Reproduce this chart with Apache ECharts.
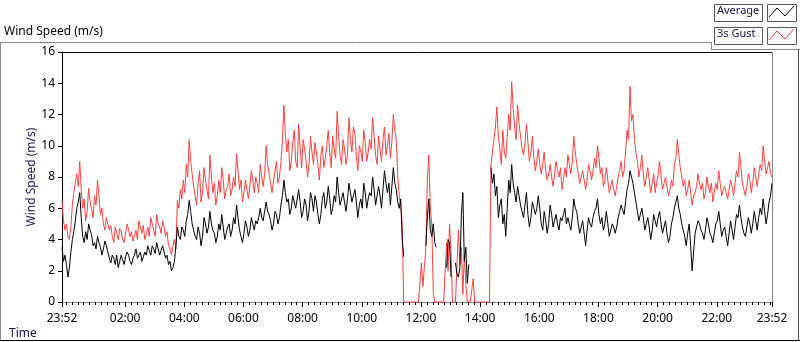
<!DOCTYPE html>
<html><head><meta charset="utf-8">
<script src="https://cdn.jsdelivr.net/npm/echarts@6/dist/echarts.min.js"></script>
<style>html,body{margin:0;padding:0;background:#fff}#c{width:800px;height:342px}</style>
</head><body><div id="c"></div>
<script>
// Minutes since midnight; series starts at 23:52 of the previous day (-8) with a 3-minute step
const startMinute = -8;
const stepMinutes = 3;

const gust = [
 6.5,5.2,4.6,5.0,4.2,4.0,4.8,6.2,7.0,7.6,8.2,7.4,9.0,7.2,6.0,6.6,5.2,5.8,7.3,6.4,
 6.0,5.4,6.8,6.2,7.8,6.8,5.6,6.0,5.0,4.6,5.4,5.0,4.6,4.9,4.2,3.8,4.8,4.4,4.0,4.7,
 4.5,4.0,3.8,4.4,5.0,4.6,4.2,4.5,3.9,4.2,4.6,4.0,5.2,4.8,4.4,4.9,4.0,4.3,4.8,4.2,
 5.4,5.0,4.6,4.2,5.6,5.0,4.8,4.4,5.2,4.8,4.2,4.5,3.6,3.4,3.0,3.6,4.0,3.4,6.5,6.0,
 7.2,6.6,7.8,7.0,8.8,8.0,10.4,9.0,8.2,7.4,6.8,6.2,7.6,8.4,6.4,7.0,8.6,7.8,7.2,6.6,
 9.4,8.0,7.0,7.6,6.2,6.8,7.8,7.0,8.6,7.8,6.6,7.2,7.4,8.2,6.8,7.2,8.0,7.4,9.5,8.4,
 7.2,7.8,6.4,7.0,7.8,7.2,6.6,7.4,8.4,7.8,7.0,8.0,7.6,7.0,8.8,8.0,7.4,8.2,10.0,8.8,
 8.2,7.6,7.0,7.8,8.4,9.0,7.6,8.0,9.0,10.2,12.6,10.8,9.6,10.4,8.4,9.0,10.2,11.0,9.0,8.6,
 11.4,9.8,8.6,10.4,9.8,9.0,8.0,8.8,10.6,9.6,8.8,10.2,9.6,8.8,7.8,9.4,10.0,8.6,9.2,10.0,
 11.0,9.6,8.6,10.6,9.8,9.2,12.2,10.6,9.4,8.8,10.4,9.8,8.8,9.4,11.8,10.4,9.6,11.2,10.8,9.4,
 8.4,10.0,9.6,9.0,11.0,10.2,9.0,9.6,10.4,9.8,11.8,10.6,9.4,8.8,10.6,9.8,9.0,10.4,11.2,9.4,
 10.0,10.8,9.2,10.2,12.0,11.0,10.4,8.0,6.8,6.2,5.0,0,0,0,0,0,0,0,0,0,
 0,0,0,2.5,1.0,2.2,3.5,7.8,9.4,6.0,5.0,0.6,0,0,0,0,0,0,0,0,
 3.8,2.0,5.0,3.2,0,0,0,0,4.6,2.4,3.5,0.5,3.0,1.2,0,0,0,0,1.5,0,
 0,0,0,0,0,0,0,0,0,0,8.8,9.6,10.4,11.2,12.5,10.6,9.8,8.8,11.0,9.6,
 9.2,10.6,12.0,11.0,14.1,12.4,11.2,10.4,12.6,11.4,10.6,9.8,9.4,10.2,11.4,10.2,9.0,9.6,10.6,9.2,
 8.4,9.0,9.8,8.8,8.2,8.8,9.6,8.4,7.8,8.2,8.8,8.0,7.4,8.2,9.0,8.4,8.0,8.6,7.2,7.8,
 8.6,8.0,9.4,8.8,8.2,9.0,10.6,9.6,8.8,8.2,7.6,8.0,8.4,7.8,7.2,7.8,8.8,8.4,7.8,8.4,
 9.2,8.6,10.0,9.2,8.2,8.6,7.4,7.8,8.6,7.8,7.0,7.4,7.8,7.2,6.8,7.4,8.0,8.4,9.0,8.0,
 8.4,9.6,11.0,10.4,13.8,11.6,12.0,10.4,9.6,9.0,8.0,8.6,9.4,8.2,7.4,8.0,8.6,7.8,7.0,7.6,
 8.2,7.0,7.6,8.2,9.0,8.0,7.2,7.6,8.0,7.4,6.8,7.2,7.8,7.4,8.8,9.2,10.4,9.4,8.6,8.0,
 7.4,7.8,6.8,7.2,7.8,7.0,6.2,6.8,7.0,7.4,8.2,7.6,7.2,7.6,6.6,7.0,8.0,7.4,7.0,7.6,
 6.4,7.0,7.6,7.2,8.4,7.6,6.8,7.2,7.4,7.0,6.6,7.2,7.8,7.4,6.8,7.6,8.4,8.0,9.6,8.6,
 7.6,7.2,6.8,7.4,8.2,7.8,7.0,7.6,8.6,8.0,7.4,8.2,8.8,8.4,10.0,9.0,8.2,8.6,9.0,8.2,
 8.0
];

const average = [
 3.5,2.6,3.0,2.4,1.6,2.2,3.2,4.0,4.5,5.2,6.0,6.4,7.0,5.4,4.2,3.8,4.5,4.0,5.0,4.6,
 4.3,3.6,3.8,3.4,4.2,3.8,3.5,3.0,3.4,3.9,3.6,3.2,2.8,2.5,3.0,2.8,2.4,3.0,2.2,2.6,
 3.0,2.7,2.4,2.9,3.2,3.0,2.6,2.4,2.8,3.0,3.4,2.8,3.0,3.2,2.6,2.9,3.2,3.0,3.6,3.3,
 3.0,3.6,3.4,3.1,3.8,3.4,3.0,3.3,3.6,3.2,2.8,3.0,2.4,2.6,2.0,2.2,2.6,3.6,4.8,4.2,
 4.0,4.8,4.6,4.2,5.2,5.6,6.5,5.8,5.0,4.6,4.2,4.0,4.8,4.4,3.6,4.2,5.4,5.0,4.4,4.8,
 5.8,5.0,4.6,4.4,3.8,4.2,5.0,4.6,5.6,4.8,4.0,4.4,4.8,5.0,4.2,4.6,5.4,5.0,6.2,5.4,
 4.6,4.2,3.8,4.4,5.2,4.8,4.2,4.6,5.4,5.0,4.6,5.2,5.0,5.4,6.0,5.4,5.2,5.8,6.4,5.8,
 5.6,5.2,4.6,5.0,5.8,5.6,5.0,5.4,6.2,6.8,7.8,7.0,6.4,6.6,5.6,6.0,6.8,6.4,6.0,6.6,
 7.2,6.4,5.4,5.8,6.6,6.2,5.2,5.8,7.0,6.6,5.8,6.8,6.4,5.6,5.0,5.6,6.6,7.0,6.0,6.4,
 7.4,6.6,5.6,6.0,6.8,6.4,8.0,7.0,6.2,6.6,7.0,6.4,5.8,6.6,7.6,7.0,6.4,6.8,7.2,6.4,
 5.4,6.2,6.6,6.0,7.6,7.0,6.0,6.6,7.0,6.8,8.0,7.2,6.2,6.8,7.4,6.8,6.0,7.2,8.4,7.6,
 7.0,7.6,6.2,7.4,8.6,7.6,7.2,6.4,6.0,6.6,4.0,2.9,null,null,null,null,null,null,null,null,
 null,null,null,null,null,null,3.6,5.4,6.6,4.6,4.2,5.0,3.8,3.5,null,null,null,null,null,null,
 2.2,4.0,3.8,1.6,null,null,2.5,1.8,1.6,2.2,5.6,7.0,2.6,3.5,1.2,2.4,null,null,null,null,
 null,null,null,null,null,null,null,null,null,null,8.6,7.6,8.2,6.8,7.4,5.4,6.2,6.6,5.0,5.6,
 4.2,6.0,7.8,7.0,8.8,7.6,7.0,6.4,7.4,6.8,6.2,5.8,5.4,6.2,7.0,5.6,4.8,5.4,6.4,6.0,
 5.6,6.0,6.8,6.0,5.0,4.6,5.8,5.2,4.4,5.0,6.2,5.6,4.8,5.2,5.6,5.0,4.6,5.4,5.2,5.6,
 6.0,5.0,5.4,5.0,4.6,5.4,6.6,6.0,5.8,5.0,4.4,4.8,5.2,4.4,3.6,4.6,5.4,5.0,4.8,5.4,
 5.8,6.0,6.6,5.6,5.0,5.4,4.6,5.0,5.8,5.0,4.2,4.6,5.0,4.8,4.4,4.8,5.4,5.8,6.2,5.9,
 5.6,6.4,7.2,7.6,8.4,8.0,7.6,7.0,6.4,5.8,5.2,5.6,6.0,5.4,4.6,5.0,5.4,4.8,4.0,4.6,
 5.6,5.2,4.8,5.4,5.8,5.0,4.4,4.8,5.2,4.4,3.8,4.2,5.0,5.4,6.0,6.4,6.8,6.0,5.6,5.0,
 4.6,4.2,3.6,4.4,5.0,3.6,2.0,3.2,4.4,4.8,5.2,5.0,4.6,4.4,4.0,4.6,5.4,5.0,4.4,4.2,
 3.8,4.4,5.0,5.2,5.8,5.0,4.2,4.6,4.8,4.2,3.6,4.4,5.2,4.6,4.0,4.8,5.6,5.4,6.2,5.4,
 4.8,4.4,4.2,4.8,5.4,5.0,4.4,5.0,5.8,5.2,4.6,5.4,6.0,5.6,6.6,5.8,5.0,5.6,6.4,6.8,
 7.6
];

const xTickValues = [-8,120,240,360,480,600,720,840,960,1080,1200,1320,1432];
const xTickLabels = ['23:52','02:00','04:00','06:00','08:00','10:00','12:00','14:00','16:00','18:00','20:00','22:00','23:52'];
const seriesNames = ['Average','3s Gust'];

const minorTickValues = [];
for (let m = 0; m <= 1428; m += 12) minorTickValues.push(m);

const toPairs = arr => arr.map((v, i) => [startMinute + i * stepMinutes, v]);
const FF = '"Noto Sans", "Open Sans", sans-serif';

const chart = echarts.init(document.getElementById('c'), null, {renderer: 'canvas'});
chart.setOption({
  animation: false,
  grid: {left: 62, top: 52, right: 28, bottom: 40},
  xAxis: [{
    type: 'value', min: -8, max: 1432, position: 'bottom',
    axisLine: {onZero: false, lineStyle: {color: '#8a8a8a', width: 1}},
    axisTick: {customValues: xTickValues, length: 5, lineStyle: {color: '#000'}},
    axisLabel: {customValues: xTickValues, color: '#000', fontSize: 12, fontFamily: FF, margin: 11,
      formatter: v => { const k = xTickValues.indexOf(v); return k >= 0 ? xTickLabels[k] : ''; }},
    splitLine: {show: false}
  }, {
    type: 'value', min: -8, max: 1432, position: 'bottom',
    axisLine: {show: false, onZero: false},
    axisTick: {customValues: minorTickValues, length: 3, lineStyle: {color: '#000'}},
    axisLabel: {show: false},
    splitLine: {show: false}
  }],
  yAxis: {
    type: 'value', min: 0, max: 16, interval: 2, position: 'left',
    axisLine: {show: true, onZero: false, lineStyle: {color: '#000'}},
    axisTick: {show: true, length: 4, lineStyle: {color: '#000'}},
    axisLabel: {color: '#000', fontSize: 12, fontFamily: FF, margin: 7},
    splitLine: {show: false},
    name: 'Wind Speed (m/s)', nameLocation: 'middle', nameGap: 24, nameMoveOverlap: false,
    nameTextStyle: {color: '#1b2060', fontSize: 12, fontFamily: FF}
  },
  series: [{
    name: seriesNames[1], type: 'line', xAxisIndex: 0, data: toPairs(gust),
    showSymbol: false, symbol: 'none', clip: false,
    lineStyle: {width: 1, color: '#ff4040'}
  }, {
    name: seriesNames[0], type: 'line', xAxisIndex: 0, data: toPairs(average),
    showSymbol: false, symbol: 'none', connectNulls: false,
    lineStyle: {width: 1, color: '#000'}
  }],
  graphic: [
    {type: 'text', left: 4, top: 26, style: {text: 'Wind Speed (m/s)', fill: '#000', font: '12px ' + FF}},
    {type: 'line', shape: {x1: 0, y1: 42.5, x2: 711, y2: 42.5}, style: {stroke: '#8a8a8a', lineWidth: 1}},
    {type: 'line', shape: {x1: 711.5, y1: 42, x2: 711.5, y2: 49}, style: {stroke: '#8a8a8a', lineWidth: 1}},
    {type: 'line', shape: {x1: 711, y1: 49.5, x2: 800, y2: 49.5}, style: {stroke: '#8a8a8a', lineWidth: 1}},
    {type: 'line', shape: {x1: 0.5, y1: 42, x2: 0.5, y2: 341}, style: {stroke: '#8a8a8a', lineWidth: 1}},
    {type: 'line', shape: {x1: 0, y1: 340.5, x2: 800, y2: 340.5}, style: {stroke: '#000', lineWidth: 1}},
    {type: 'line', shape: {x1: 798.5, y1: 49, x2: 798.5, y2: 341}, style: {stroke: '#555', lineWidth: 1}},
    {type: 'line', shape: {x1: 62, y1: 52.5, x2: 773, y2: 52.5}, style: {stroke: '#000', lineWidth: 1}},
    {type: 'line', shape: {x1: 772.5, y1: 52, x2: 772.5, y2: 302}, style: {stroke: '#8a8a8a', lineWidth: 1}},
    {type: 'text', left: 9, top: 328, style: {text: 'Time', fill: '#10104a', font: '12px ' + FF}},
    {type: 'rect', shape: {x: 714.5, y: 4.5, width: 48, height: 17}, style: {fill: '#fff', stroke: '#555', lineWidth: 1}},
    {type: 'text', left: 717, top: 5, style: {text: seriesNames[0], fill: '#10104a', font: '11px ' + FF}},
    {type: 'rect', shape: {x: 767.5, y: 4.5, width: 29, height: 17}, style: {fill: '#fff', stroke: '#555', lineWidth: 1}},
    {type: 'polyline', shape: {points: [[769, 17], [777, 8], [785, 16], [794, 6]]}, style: {stroke: '#000', lineWidth: 1, fill: null}},
    {type: 'rect', shape: {x: 714.5, y: 27.5, width: 48, height: 17}, style: {fill: '#fff', stroke: '#555', lineWidth: 1}},
    {type: 'text', left: 717, top: 28, style: {text: seriesNames[1], fill: '#10104a', font: '11px ' + FF}},
    {type: 'rect', shape: {x: 767.5, y: 27.5, width: 29, height: 17}, style: {fill: '#fff', stroke: '#555', lineWidth: 1}},
    {type: 'polyline', shape: {points: [[769, 40], [777, 31], [785, 39], [794, 29]]}, style: {stroke: '#ff4040', lineWidth: 1, fill: null}}
  ]
});
</script></body></html>
